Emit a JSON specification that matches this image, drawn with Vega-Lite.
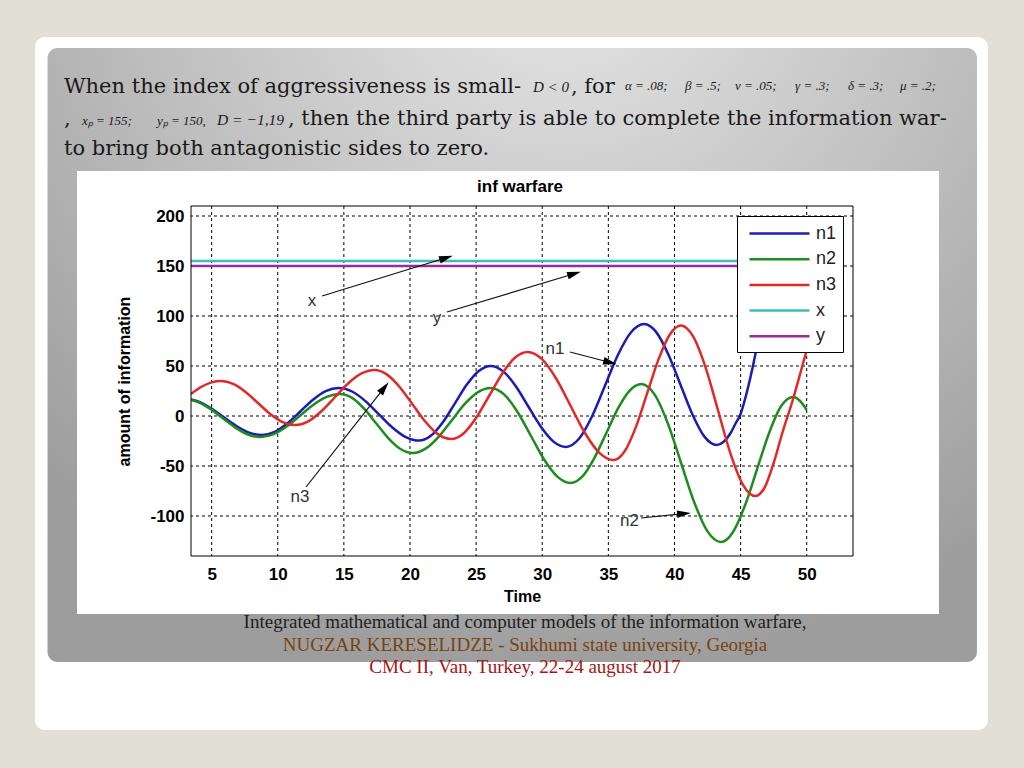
{
  "$schema": "https://vega.github.io/schema/vega-lite/v6.json",
  "width": 662,
  "height": 350,
  "autosize": "none",
  "padding": {"left": 191, "top": 206, "right": 171, "bottom": 212},
  "background": "#e2dfd6",
  "config": {"view": {"stroke": null}},
  "data": {"values": [{}]},
  "datasets": {
    "lines": [
      {"t": 3.44, "v": 16.5, "s": "n1"}, {"t": 3.97, "v": 14.6, "s": "n1"}, {"t": 4.93, "v": 8, "s": "n1"}, {"t": 5.9, "v": -1, "s": "n1"}, {"t": 6.87, "v": -10, "s": "n1"}, {"t": 7.83, "v": -16.6, "s": "n1"}, {"t": 8.8, "v": -19, "s": "n1"}, {"t": 9.77, "v": -15.9, "s": "n1"}, {"t": 10.73, "v": -7.3, "s": "n1"}, {"t": 11.7, "v": 4.5, "s": "n1"}, {"t": 12.67, "v": 16.3, "s": "n1"}, {"t": 13.63, "v": 24.9, "s": "n1"}, {"t": 14.6, "v": 28, "s": "n1"}, {"t": 15.62, "v": 24.5, "s": "n1"}, {"t": 16.63, "v": 14.9, "s": "n1"}, {"t": 17.65, "v": 1.7, "s": "n1"}, {"t": 18.67, "v": -11.5, "s": "n1"}, {"t": 19.68, "v": -21.1, "s": "n1"}, {"t": 20.7, "v": -24.6, "s": "n1"}, {"t": 21.6, "v": -19.6, "s": "n1"}, {"t": 22.5, "v": -6, "s": "n1"}, {"t": 23.4, "v": 12.7, "s": "n1"}, {"t": 24.3, "v": 31.4, "s": "n1"}, {"t": 25.2, "v": 45, "s": "n1"}, {"t": 26.1, "v": 50, "s": "n1"}, {"t": 27.05, "v": 44.6, "s": "n1"}, {"t": 28, "v": 29.8, "s": "n1"}, {"t": 28.95, "v": 9.5, "s": "n1"}, {"t": 29.9, "v": -10.8, "s": "n1"}, {"t": 30.85, "v": -25.6, "s": "n1"}, {"t": 31.8, "v": -31, "s": "n1"}, {"t": 32.78, "v": -22.8, "s": "n1"}, {"t": 33.77, "v": -0.3, "s": "n1"}, {"t": 34.75, "v": 30.5, "s": "n1"}, {"t": 35.73, "v": 61.3, "s": "n1"}, {"t": 36.72, "v": 83.8, "s": "n1"}, {"t": 37.7, "v": 92, "s": "n1"}, {"t": 38.62, "v": 83.9, "s": "n1"}, {"t": 39.53, "v": 61.8, "s": "n1"}, {"t": 40.45, "v": 31.5, "s": "n1"}, {"t": 41.37, "v": 1.3, "s": "n1"}, {"t": 42.28, "v": -20.9, "s": "n1"}, {"t": 43.2, "v": -29, "s": "n1"}, {"t": 43.7, "v": -26, "s": "n1"}, {"t": 44.2, "v": -18, "s": "n1"}, {"t": 44.6, "v": -8, "s": "n1"}, {"t": 45, "v": 2, "s": "n1"}, {"t": 45.4, "v": 20, "s": "n1"}, {"t": 45.8, "v": 42, "s": "n1"}, {"t": 46.2, "v": 67, "s": "n1"}, {"t": 46.6, "v": 92, "s": "n1"}, {"t": 47, "v": 118, "s": "n1"}, {"t": 47.5, "v": 145, "s": "n1"}, {"t": 48, "v": 165, "s": "n1"}, {"t": 48.7, "v": 180, "s": "n1"}, {"t": 49.4, "v": 184, "s": "n1"}, {"t": 50, "v": 178, "s": "n1"},
      {"t": 3.44, "v": 16, "s": "n2"}, {"t": 3.95, "v": 14, "s": "n2"}, {"t": 4.9, "v": 7.1, "s": "n2"}, {"t": 5.85, "v": -2.3, "s": "n2"}, {"t": 6.8, "v": -11.6, "s": "n2"}, {"t": 7.75, "v": -18.5, "s": "n2"}, {"t": 8.7, "v": -21, "s": "n2"}, {"t": 9.7, "v": -18.1, "s": "n2"}, {"t": 10.7, "v": -10.3, "s": "n2"}, {"t": 11.7, "v": 0.5, "s": "n2"}, {"t": 12.7, "v": 11.3, "s": "n2"}, {"t": 13.7, "v": 19.1, "s": "n2"}, {"t": 14.7, "v": 22, "s": "n2"}, {"t": 15.62, "v": 18.1, "s": "n2"}, {"t": 16.53, "v": 7.3, "s": "n2"}, {"t": 17.45, "v": -7.5, "s": "n2"}, {"t": 18.37, "v": -22.3, "s": "n2"}, {"t": 19.28, "v": -33, "s": "n2"}, {"t": 20.2, "v": -37, "s": "n2"}, {"t": 21.18, "v": -32.6, "s": "n2"}, {"t": 22.17, "v": -20.8, "s": "n2"}, {"t": 23.15, "v": -4.5, "s": "n2"}, {"t": 24.13, "v": 11.8, "s": "n2"}, {"t": 25.12, "v": 23.6, "s": "n2"}, {"t": 26.1, "v": 28, "s": "n2"}, {"t": 27.11, "v": 21.6, "s": "n2"}, {"t": 28.12, "v": 4.3, "s": "n2"}, {"t": 29.13, "v": -19.5, "s": "n2"}, {"t": 30.13, "v": -43.3, "s": "n2"}, {"t": 31.14, "v": -60.6, "s": "n2"}, {"t": 32.15, "v": -67, "s": "n2"}, {"t": 33.04, "v": -60.4, "s": "n2"}, {"t": 33.93, "v": -42.3, "s": "n2"}, {"t": 34.83, "v": -17.5, "s": "n2"}, {"t": 35.72, "v": 7.3, "s": "n2"}, {"t": 36.61, "v": 25.4, "s": "n2"}, {"t": 37.5, "v": 32, "s": "n2"}, {"t": 38.5, "v": 21.4, "s": "n2"}, {"t": 39.5, "v": -7.5, "s": "n2"}, {"t": 40.5, "v": -47, "s": "n2"}, {"t": 41.5, "v": -86.5, "s": "n2"}, {"t": 42.5, "v": -115.4, "s": "n2"}, {"t": 43.5, "v": -126, "s": "n2"}, {"t": 44.42, "v": -116.2, "s": "n2"}, {"t": 45.33, "v": -89.5, "s": "n2"}, {"t": 46.25, "v": -53, "s": "n2"}, {"t": 47.17, "v": -16.5, "s": "n2"}, {"t": 48.08, "v": 10.2, "s": "n2"}, {"t": 49, "v": 19, "s": "n2"}, {"t": 49.5, "v": 15, "s": "n2"}, {"t": 50, "v": 6, "s": "n2"},
      {"t": 3.44, "v": 22, "s": "n3"}, {"t": 4.2, "v": 29, "s": "n3"}, {"t": 5, "v": 33.6, "s": "n3"}, {"t": 5.7, "v": 35, "s": "n3"}, {"t": 6.63, "v": 32.1, "s": "n3"}, {"t": 7.57, "v": 24, "s": "n3"}, {"t": 8.5, "v": 13, "s": "n3"}, {"t": 9.43, "v": 2, "s": "n3"}, {"t": 10.37, "v": -6.1, "s": "n3"}, {"t": 11.3, "v": -9, "s": "n3"}, {"t": 12.3, "v": -5.3, "s": "n3"}, {"t": 13.3, "v": 4.8, "s": "n3"}, {"t": 14.3, "v": 18.5, "s": "n3"}, {"t": 15.3, "v": 32.3, "s": "n3"}, {"t": 16.3, "v": 42.3, "s": "n3"}, {"t": 17.3, "v": 46, "s": "n3"}, {"t": 18.27, "v": 41.4, "s": "n3"}, {"t": 19.23, "v": 28.8, "s": "n3"}, {"t": 20.2, "v": 11.5, "s": "n3"}, {"t": 21.17, "v": -5.8, "s": "n3"}, {"t": 22.13, "v": -18.4, "s": "n3"}, {"t": 23.1, "v": -23, "s": "n3"}, {"t": 24.07, "v": -17.2, "s": "n3"}, {"t": 25.03, "v": -1.3, "s": "n3"}, {"t": 26, "v": 20.5, "s": "n3"}, {"t": 26.97, "v": 42.3, "s": "n3"}, {"t": 27.93, "v": 58.2, "s": "n3"}, {"t": 28.9, "v": 64, "s": "n3"}, {"t": 29.98, "v": 56.8, "s": "n3"}, {"t": 31.07, "v": 37, "s": "n3"}, {"t": 32.15, "v": 10, "s": "n3"}, {"t": 33.23, "v": -17, "s": "n3"}, {"t": 34.32, "v": -36.8, "s": "n3"}, {"t": 35.4, "v": -44, "s": "n3"}, {"t": 36.25, "v": -35, "s": "n3"}, {"t": 37.1, "v": -10.4, "s": "n3"}, {"t": 37.95, "v": 23.3, "s": "n3"}, {"t": 38.8, "v": 56.9, "s": "n3"}, {"t": 39.65, "v": 81.5, "s": "n3"}, {"t": 40.5, "v": 90.5, "s": "n3"}, {"t": 41.43, "v": 79.1, "s": "n3"}, {"t": 42.37, "v": 47.9, "s": "n3"}, {"t": 43.3, "v": 5.3, "s": "n3"}, {"t": 44.23, "v": -37.4, "s": "n3"}, {"t": 45.17, "v": -68.6, "s": "n3"}, {"t": 46.1, "v": -80, "s": "n3"}, {"t": 46.8, "v": -72, "s": "n3"}, {"t": 47.5, "v": -47, "s": "n3"}, {"t": 48.2, "v": -15, "s": "n3"}, {"t": 48.9, "v": 14, "s": "n3"}, {"t": 49.5, "v": 42, "s": "n3"}, {"t": 50, "v": 66, "s": "n3"},
      {"t": 3.44, "v": 155, "s": "x"}, {"t": 50, "v": 155, "s": "x"},
      {"t": 3.44, "v": 150, "s": "y"}, {"t": 50, "v": 150, "s": "y"}
    ],
    "gx": [{"v": 5}, {"v": 10}, {"v": 15}, {"v": 20}, {"v": 25}, {"v": 30}, {"v": 35}, {"v": 40}, {"v": 45}, {"v": 50}],
    "gy": [{"v": -100}, {"v": -50}, {"v": 0}, {"v": 50}, {"v": 100}, {"v": 150}, {"v": 200}],
    "ann": [
      {"label": "x", "lx": 12.59, "ly": 115, "x0": 13.35, "y0": 120, "x1": 22.74, "y1": 158.2, "ang": 72.9},
      {"label": "y", "lx": 22.04, "ly": 98, "x0": 22.8, "y0": 104, "x1": 32.42, "y1": 142.3, "ang": 73.25},
      {"label": "n1", "lx": 30.96, "ly": 67, "x0": 32.1, "y0": 64, "x1": 35.14, "y1": 53.5, "ang": 104.6},
      {"label": "n3", "lx": 11.68, "ly": -81, "x0": 12.14, "y0": -71, "x1": 18.06, "y1": 28.3, "ang": 38.3},
      {"label": "n2", "lx": 36.6, "ly": -105, "x0": 37.47, "y0": -102, "x1": 40.72, "y1": -97.6, "ang": 84.2}
    ]
  },
  "layer": [
    {"mark": {"type": "rect", "fill": "white", "cornerRadius": 10},
     "encoding": {"x": {"datum": -8.356, "type": "quantitative"}, "x2": {"datum": 63.705}, "y": {"datum": 379, "type": "quantitative"}, "y2": {"datum": -314}}},
    {"mark": {"type": "rect", "cornerRadius": 10, "fill": {"gradient": "radial", "x1": 0.55, "y1": 0.05, "r1": 0, "x2": 0.55, "y2": 0.05, "r2": 0.8, "stops": [{"offset": 0, "color": "#e9e9e9"}, {"offset": 1, "color": "#9d9d9d"}]}},
     "encoding": {"x": {"datum": -7.411, "type": "quantitative"}, "x2": {"datum": 62.873}, "y": {"datum": 368, "type": "quantitative"}, "y2": {"datum": -246}}},
    {"mark": {"type": "rect", "fill": "white"},
     "encoding": {"x": {"datum": -5.18, "type": "quantitative"}, "x2": {"datum": 60.0}, "y": {"datum": 245, "type": "quantitative"}, "y2": {"datum": -198}}},
    {"mark": {"type": "text", "align": "left", "baseline": "alphabetic", "font": "DejaVu Serif", "fontSize": 21, "color": "#1a1a1a"},
     "encoding": {"x": {"datum": -6.163, "type": "quantitative"}, "y": {"datum": 323.5, "type": "quantitative"}, "text": {"value": "When the index of aggressiveness is small-"}}},
    {"mark": {"type": "text", "align": "left", "baseline": "alphabetic", "font": "Liberation Serif", "fontStyle": "italic", "fontSize": 15, "color": "#1a1a1a"},
     "encoding": {"x": {"datum": 29.3, "type": "quantitative"}, "y": {"datum": 324, "type": "quantitative"}, "text": {"value": "D < 0"}}},
    {"mark": {"type": "text", "align": "left", "baseline": "alphabetic", "font": "DejaVu Serif", "fontSize": 21, "color": "#1a1a1a"},
     "encoding": {"x": {"datum": 32.17, "type": "quantitative"}, "y": {"datum": 323.5, "type": "quantitative"}, "text": {"value": ", for"}}},
    {"mark": {"type": "text", "align": "left", "baseline": "alphabetic", "font": "Liberation Serif", "fontStyle": "italic", "fontSize": 13, "color": "#1a1a1a"},
     "encoding": {"x": {"datum": 36.26, "type": "quantitative"}, "y": {"datum": 326, "type": "quantitative"}, "text": {"value": "α = .08;"}}},
    {"mark": {"type": "text", "align": "left", "baseline": "alphabetic", "font": "Liberation Serif", "fontStyle": "italic", "fontSize": 13, "color": "#1a1a1a"},
     "encoding": {"x": {"datum": 40.8, "type": "quantitative"}, "y": {"datum": 326, "type": "quantitative"}, "text": {"value": "β = .5;"}}},
    {"mark": {"type": "text", "align": "left", "baseline": "alphabetic", "font": "Liberation Serif", "fontStyle": "italic", "fontSize": 13, "color": "#1a1a1a"},
     "encoding": {"x": {"datum": 44.58, "type": "quantitative"}, "y": {"datum": 326, "type": "quantitative"}, "text": {"value": "ν = .05;"}}},
    {"mark": {"type": "text", "align": "left", "baseline": "alphabetic", "font": "Liberation Serif", "fontStyle": "italic", "fontSize": 13, "color": "#1a1a1a"},
     "encoding": {"x": {"datum": 49.12, "type": "quantitative"}, "y": {"datum": 326, "type": "quantitative"}, "text": {"value": "γ = .3;"}}},
    {"mark": {"type": "text", "align": "left", "baseline": "alphabetic", "font": "Liberation Serif", "fontStyle": "italic", "fontSize": 13, "color": "#1a1a1a"},
     "encoding": {"x": {"datum": 53.12, "type": "quantitative"}, "y": {"datum": 326, "type": "quantitative"}, "text": {"value": "δ = .3;"}}},
    {"mark": {"type": "text", "align": "left", "baseline": "alphabetic", "font": "Liberation Serif", "fontStyle": "italic", "fontSize": 13, "color": "#1a1a1a"},
     "encoding": {"x": {"datum": 57.05, "type": "quantitative"}, "y": {"datum": 326, "type": "quantitative"}, "text": {"value": "μ = .2;"}}},
    {"mark": {"type": "text", "align": "left", "baseline": "alphabetic", "font": "DejaVu Serif", "fontSize": 21, "color": "#1a1a1a"},
     "encoding": {"x": {"datum": -6.163, "type": "quantitative"}, "y": {"datum": 291, "type": "quantitative"}, "text": {"value": ","}}},
    {"mark": {"type": "text", "align": "left", "baseline": "alphabetic", "font": "Liberation Serif", "fontStyle": "italic", "fontSize": 13, "color": "#1a1a1a"},
     "encoding": {"x": {"datum": -4.8, "type": "quantitative"}, "y": {"datum": 291, "type": "quantitative"}, "text": {"value": "xₚ = 155;"}}},
    {"mark": {"type": "text", "align": "left", "baseline": "alphabetic", "font": "Liberation Serif", "fontStyle": "italic", "fontSize": 13, "color": "#1a1a1a"},
     "encoding": {"x": {"datum": 0.87, "type": "quantitative"}, "y": {"datum": 291, "type": "quantitative"}, "text": {"value": "yₚ = 150,"}}},
    {"mark": {"type": "text", "align": "left", "baseline": "alphabetic", "font": "Liberation Serif", "fontStyle": "italic", "fontSize": 15.5, "color": "#1a1a1a"},
     "encoding": {"x": {"datum": 5.41, "type": "quantitative"}, "y": {"datum": 291, "type": "quantitative"}, "text": {"value": "D = −1,19"}}},
    {"mark": {"type": "text", "align": "left", "baseline": "alphabetic", "font": "DejaVu Serif", "fontSize": 21, "color": "#1a1a1a"},
     "encoding": {"x": {"datum": 10.77, "type": "quantitative"}, "y": {"datum": 291, "type": "quantitative"}, "text": {"value": ", then the third party is able to complete the information war-"}}},
    {"mark": {"type": "text", "align": "left", "baseline": "alphabetic", "font": "DejaVu Serif", "fontSize": 21, "color": "#1a1a1a"},
     "encoding": {"x": {"datum": -6.163, "type": "quantitative"}, "y": {"datum": 261, "type": "quantitative"}, "text": {"value": "to bring both antagonistic sides to zero."}}},
    {"mark": {"type": "text", "align": "center", "baseline": "alphabetic", "font": "Liberation Serif", "fontSize": 19, "color": "#1e1e1e"},
     "encoding": {"x": {"datum": 28.7, "type": "quantitative"}, "y": {"datum": -212, "type": "quantitative"}, "text": {"value": "Integrated mathematical and computer models of the information warfare,"}}},
    {"mark": {"type": "text", "align": "center", "baseline": "alphabetic", "font": "Liberation Serif", "fontSize": 19, "color": "#7a4210"},
     "encoding": {"x": {"datum": 28.7, "type": "quantitative"}, "y": {"datum": -235, "type": "quantitative"}, "text": {"value": "NUGZAR KERESELIDZE - Sukhumi state university, Georgia"}}},
    {"mark": {"type": "text", "align": "center", "baseline": "alphabetic", "font": "Liberation Serif", "fontSize": 19, "color": "#a51515"},
     "encoding": {"x": {"datum": 28.7, "type": "quantitative"}, "y": {"datum": -257, "type": "quantitative"}, "text": {"value": "CMC II, Van, Turkey, 22-24 august 2017"}}},
    {"mark": {"type": "text", "align": "center", "baseline": "alphabetic", "font": "Liberation Sans", "fontWeight": "bold", "fontSize": 17, "color": "black"},
     "encoding": {"x": {"datum": 28.32, "type": "quantitative"}, "y": {"datum": 224, "type": "quantitative"}, "text": {"value": "inf warfare"}}},
    {"data": {"name": "gx"},
     "mark": {"type": "rule", "color": "black", "strokeWidth": 1, "strokeDash": [3, 3]},
     "encoding": {"x": {"field": "v", "type": "quantitative"}}},
    {"data": {"name": "gy"},
     "mark": {"type": "rule", "color": "black", "strokeWidth": 1, "strokeDash": [3, 3]},
     "encoding": {"y": {"field": "v", "type": "quantitative"}}},
    {"data": {"name": "lines"},
     "mark": {"type": "line", "strokeWidth": 2.5, "interpolate": "monotone", "clip": true},
     "encoding": {
       "x": {"field": "t", "type": "quantitative",
             "scale": {"domain": [3.44, 53.5], "nice": false, "zero": false},
             "axis": {"values": [5, 10, 15, 20, 25, 30, 35, 40, 45, 50], "grid": false, "domain": false, "ticks": false, "zindex": 1,
                      "labelFont": "Liberation Sans", "labelFontWeight": "bold", "labelFontSize": 17, "labelColor": "black", "labelPadding": 10,
                      "title": "Time", "titleFont": "Liberation Sans", "titleFontWeight": "bold", "titleFontSize": 16, "titleColor": "black",
                      "titleY": 40, "titleBaseline": "middle"}},
       "y": {"field": "v", "type": "quantitative",
             "scale": {"domain": [-140, 210], "nice": false, "zero": false},
             "axis": {"values": [-100, -50, 0, 50, 100, 150, 200], "grid": false, "domain": false, "ticks": false, "zindex": 1,
                      "labelExpr": "'' + datum.value",
                      "labelFont": "Liberation Sans", "labelFontWeight": "bold", "labelFontSize": 17, "labelColor": "black", "labelPadding": 7,
                      "title": "amount of information", "titleFont": "Liberation Sans", "titleFontWeight": "bold", "titleFontSize": 16, "titleColor": "black",
                      "titleX": -67, "titleY": 175, "titleAngle": 270, "titleBaseline": "middle", "titleAlign": "center"}},
       "color": {"field": "s", "type": "nominal",
                 "scale": {"domain": ["n1", "n2", "n3", "x", "y"], "range": ["#1c1cb4", "#1f8c1f", "#e02a2a", "#3dbdbd", "#9b2a9b"]},
                 "legend": {"orient": "none", "legendX": 546, "legendY": 10, "title": null, "fillColor": "white", "strokeColor": "black",
                            "padding": 6, "symbolType": "M-0.5,0H5.5", "symbolSize": 400, "symbolStrokeWidth": 2.5,
                            "labelFont": "Liberation Sans", "labelFontSize": 18, "labelColor": "#222", "labelOffset": 50, "rowPadding": 4.7}}
     }},
    {"data": {"name": "ann"},
     "mark": {"type": "rule", "color": "#111", "strokeWidth": 1.2},
     "encoding": {"x": {"field": "x0", "type": "quantitative"}, "y": {"field": "y0", "type": "quantitative"}, "x2": {"field": "x1"}, "y2": {"field": "y1"}}},
    {"data": {"name": "ann"},
     "mark": {"type": "point", "shape": "M0,-1L0.55,1L-0.55,1Z", "filled": true, "color": "black", "size": 190, "opacity": 1},
     "encoding": {"x": {"field": "x1", "type": "quantitative"}, "y": {"field": "y1", "type": "quantitative"}, "angle": {"field": "ang", "type": "quantitative", "scale": null}}},
    {"data": {"name": "ann"},
     "mark": {"type": "text", "align": "center", "baseline": "middle", "font": "Liberation Sans", "fontSize": 17, "color": "#333"},
     "encoding": {"x": {"field": "lx", "type": "quantitative"}, "y": {"field": "ly", "type": "quantitative"}, "text": {"field": "label"}}},
    {"mark": {"type": "rect", "fill": "transparent", "stroke": "black", "strokeWidth": 1},
     "encoding": {"x": {"datum": 3.44, "type": "quantitative"}, "x2": {"datum": 53.5}, "y": {"datum": -140, "type": "quantitative"}, "y2": {"datum": 210}}}
  ]
}
